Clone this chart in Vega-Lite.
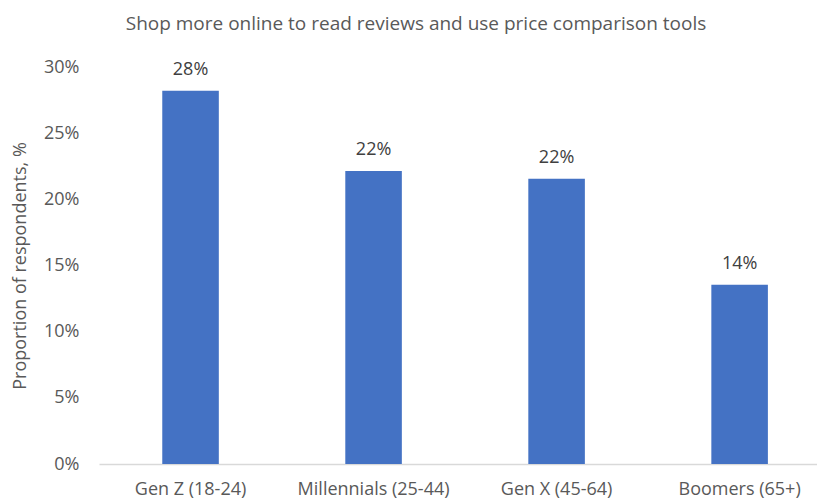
{
  "$schema": "https://vega.github.io/schema/vega-lite/v6.json",
  "autosize": {"type": "none"},
  "width": 718,
  "height": 397,
  "padding": {"left": 99, "top": 67, "right": 0, "bottom": 38},
  "background": "white",
  "config": {
    "font": "Open Sans",
    "view": {"stroke": null}
  },
  "title": {
    "text": "Shop more online to read reviews and use price comparison tools",
    "anchor": "middle",
    "dx": -42,
    "offset": 24,
    "fontSize": 19,
    "fontWeight": "normal",
    "color": "#595959",
    "font": "Open Sans"
  },
  "data": {
    "values": [
      {"group": "Gen Z (18-24)", "share": 0.282},
      {"group": "Millennials (25-44)", "share": 0.2215},
      {"group": "Gen X (45-64)", "share": 0.2155},
      {"group": "Boomers (65+)", "share": 0.1355}
    ]
  },
  "encoding": {
    "x": {
      "field": "group",
      "type": "nominal",
      "sort": null,
      "scale": {"paddingInner": 0.691, "paddingOuter": 0.307, "align": 0.563},
      "axis": {
        "title": null,
        "labelAngle": 0,
        "ticks": false,
        "domainColor": "#D9D9D9",
        "domainWidth": 1.5,
        "labelPadding": 16,
        "labelFontSize": 18,
        "labelColor": "#595959",
        "labelFont": "Open Sans"
      }
    },
    "y": {
      "field": "share",
      "type": "quantitative",
      "scale": {"domain": [0, 0.3], "nice": false},
      "axis": {
        "title": "Proportion of respondents, %",
        "titleFontSize": 18,
        "titleFontWeight": "normal",
        "titleColor": "#595959",
        "titleFont": "Open Sans",
        "titlePadding": 14,
        "values": [0, 0.05, 0.1, 0.15, 0.2, 0.25, 0.3],
        "format": ".0%",
        "grid": false,
        "domain": false,
        "ticks": false,
        "labelPadding": 20,
        "labelFontSize": 18,
        "labelColor": "#595959",
        "labelFont": "Open Sans"
      }
    }
  },
  "layer": [
    {"mark": {"type": "bar", "color": "#4472C4"}},
    {
      "mark": {"type": "text", "baseline": "alphabetic", "dy": -16, "fontSize": 18, "color": "#404040", "font": "Open Sans"},
      "encoding": {"text": {"field": "share", "type": "quantitative", "format": ".0%"}}
    }
  ]
}
